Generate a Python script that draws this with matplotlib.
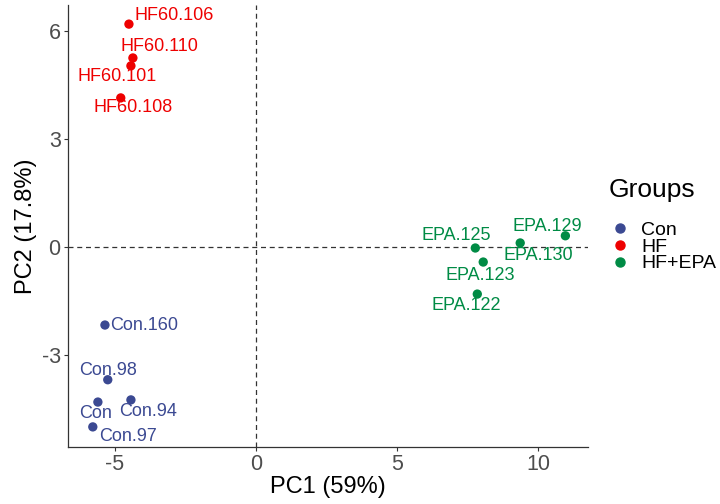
import matplotlib
matplotlib.use("Agg")
import matplotlib.pyplot as plt
from matplotlib.lines import Line2D

plt.rcParams["font.family"] = ["Liberation Sans", "DejaVu Sans"]
plt.rcParams["axes.unicode_minus"] = False

# PCA scores
groups = ["Con", "HF", "HF+EPA"]
group_colors = {"Con": "#3B4992", "HF": "#EE0000", "HF+EPA": "#008B45"}

sample_names = [
    "HF60.106", "HF60.110", "HF60.101", "HF60.108",
    "Con.160", "Con.98", "Con", "Con.94", "Con.97",
    "EPA.125", "EPA.130", "EPA.129", "EPA.123", "EPA.122",
]
sample_groups = ["HF"] * 4 + ["Con"] * 5 + ["HF+EPA"] * 5
pc1 = [-4.50, -4.36, -4.43, -4.79,
       -5.35, -5.25, -5.60, -4.43, -5.78,
       7.77, 9.36, 10.96, 8.05, 7.84]
pc2 = [6.19, 5.25, 5.03, 4.14,
       -2.17, -3.69, -4.31, -4.25, -5.00,
       -0.03, 0.11, 0.31, -0.42, -1.31]

# label offsets (points) mimicking the repel layout
label_offsets = [
    (4, 6, "left"), (19, 8, "center"), (-10, -8, "center"), (9, -7, "center"),
    (3.5, 0, "left"), (0, 6.5, "center"), (-1.5, -8, "center"), (12, -8, "center"), (25, -7, "center"),
    (-14, 9, "center"), (13, -9, "center"), (-13, 6.5, "center"), (-2, -9.5, "center"), (-8, -8, "center"),
]

fig = plt.figure(figsize=(7.2, 5.04), dpi=100)
ax = fig.add_axes([0.094, 0.113, 0.723, 0.877])

ax.axvline(0, color="#333333", linestyle=(0, (4, 3)), linewidth=0.9, zorder=1)
ax.axhline(0, color="#333333", linestyle=(0, (4, 3)), linewidth=0.9, zorder=1)

for name, g, x, y, (dx, dy, ha) in zip(sample_names, sample_groups, pc1, pc2, label_offsets):
    c = group_colors[g]
    ax.scatter(x, y, s=45, color=c, zorder=3, edgecolors="none")
    ax.annotate(name, (x, y), xytext=(dx, dy), textcoords="offset points",
                ha=ha, va="center", color=c, fontsize=13)

ax.set_xlim(-6.67, 11.77)
ax.set_ylim(-5.56, 6.72)
ax.set_xticks([-5, 0, 5, 10])
ax.set_yticks([-3, 0, 3, 6])
ax.tick_params(labelsize=15.5, colors="#333333", labelcolor="#4D4D4D",
               length=3, width=0.8, pad=2)
for s in ["top", "right"]:
    ax.spines[s].set_visible(False)
for s in ["left", "bottom"]:
    ax.spines[s].set_color("#333333")
    ax.spines[s].set_linewidth(0.9)
ax.set_xlabel("PC1 (59%)", fontsize=17, labelpad=1)
ax.set_ylabel("PC2 (17.8%)", fontsize=17, labelpad=3)

handles = [Line2D([], [], marker="o", linestyle="none", markersize=6.5,
                  color=group_colors[g], label=g) for g in groups]
leg = fig.legend(handles=handles, title="Groups", loc="upper left",
                 bbox_to_anchor=(0.834, 0.662), frameon=False, fontsize=14,
                 title_fontsize=19, handletextpad=0.5, labelspacing=-0.05,
                 borderaxespad=0, handlelength=1.2)
leg._legend_box.align = "left"
leg._legend_box.sep = 14

fig.savefig("out.png", dpi=100)
